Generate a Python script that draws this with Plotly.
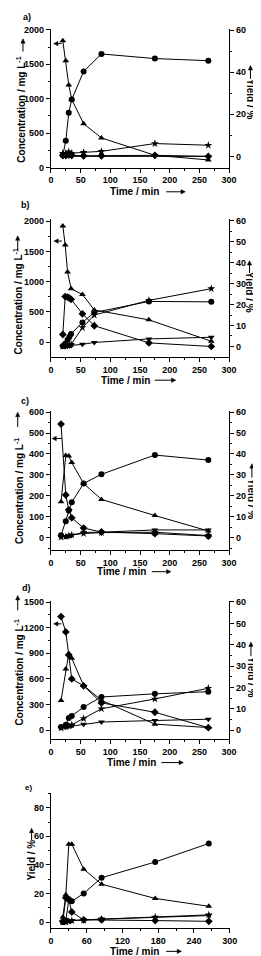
import plotly.graph_objects as go

W, H = 261, 956

# ---------------- data ----------------
# panel a
a_time = [20, 25, 30, 35, 55, 85, 175, 265]
a_tri_conc = [1840, 1550, 1200, 990, 636, 430, 178, 110]      # left axis, mg/L
a_circ_yield = [0.5, 7.4, 20.7, 27.0, 40.4, 48.7, 46.5, 45.5]
a_star_yield = [1.5, 1.5, 2.2, 1.5, 1.9, 2.4, 6.1, 5.3]
a_diam_yield = [0.5, 0.5, 1.0, 0.5, 0.3, 0.3, 0.5, 0.0]
a_down_yield = [0.0, 0.0, 0.2, 0.0, 0.0, 0.0, 0.3, 0.0]

# panel b
b_time = [20, 24, 28, 31, 34, 53, 73, 165, 270]
b_tri_conc = [1921, 1606, 1160, None, 882, 789, 533, 369, 16]  # left axis
b_diam_yield = [5.7, 23.8, 23.6, 23.1, 22.5, 15.6, 9.9, 1.7, 0.0]
b_circ_yield = [0.2, 1.3, 3.2, 4.5, 6.0, 11.5, 16.2, 21.5, 21.3]
b_star_yield = [0.0, 0.3, 0.5, 0.7, 1.0, 9.0, 15.0, 22.0, 27.6]
b_down_yield = [0.0, 0.0, 0.2, 0.3, 0.5, 1.0, 1.9, 3.6, 4.4]

# panel c
c_time = [17, 25, 30, 35, 55, 85, 175, 265]
c_diam_conc = [543, 204, 133, 95, 46, 27, 19, 8]               # left axis
c_tri_yield = [17.2, 39.3, 39.0, 35.9, 25.9, 18.3, 10.6, 3.2]
c_circ_yield = [1.1, 7.9, 13.0, 16.9, 25.9, 30.3, 39.5, 37.1]
c_down_yield = [0.5, 0.5, 0.8, 1.2, 2.5, 2.6, 3.7, 3.7]
c_star_yield = [0.3, 0.5, 1.0, 1.3, 2.0, 2.4, 2.6, 1.0]

# panel d
d_time = [17, 25, 30, 35, 55, 85, 175, 265]
d_diam_conc = [1330, 1150, 880, 600, 520, 320, 210, 30]        # left axis
d_tri_yield = [13.9, 28.6, 35.9, 33.6, 20.9, 14.0, 2.8, 1.2]
d_circ_yield = [1.5, 2.5, 5.7, 6.6, 10.8, 15.5, 17.0, 18.0]
d_star_yield = [1.0, 1.5, 2.0, 2.5, 5.4, 10.0, 14.6, 19.6]
d_down_yield = [1.2, 1.5, 1.8, 2.0, 2.8, 3.8, 4.5, 5.1]

# panel e (yield only)
e_time = [20, 25, 30, 35, 55, 85, 175, 265]
e_tri_yield = [3.5, 19.0, 54.5, 54.5, 37.0, 26.5, 16.5, 11.0]
e_circ_yield = [0.0, 1.0, 16.0, 14.5, 20.0, 31.0, 42.0, 55.0]
e_diam_yield = [0.5, 17.0, 15.5, 7.0, 1.5, 1.5, 1.0, 0.5]
e_down_yield = [0.0, 0.0, 1.0, 1.0, 1.5, 2.0, 3.0, 4.5]
e_star_yield = [0.0, 0.0, 0.5, 1.0, 1.2, 2.0, 3.5, 5.0]

panel_labels = ["a)", "b)", "c)", "d)", "e)"]
conc_title = "Concentration / mg L<sup>-1</sup>"
yield_title = "Yield / %"
time_title = "Time / min"

# ---------------- styling / layout ----------------
FONT = "Liberation Sans, Arial, sans-serif"
BLACK = "black"


def P(x, y):
    """pixel -> paper coordinates"""
    return x / W, 1 - y / H


def ydom(top, bottom):
    return [1 - bottom / H, 1 - top / H]


X_L, X_R = 41.7, 227.7
panel_px = [(17.3, 157.0), (209.3, 348.0), (402.7, 542.7), (594.3, 734.0), (788.3, 925.0)]

fig = go.Figure()
shapes = []
annotations = []


def arrow(x0, y0, x1, y1, head=4.5, half=2.2):
    """draw an arrow in pixel space from tail (x0,y0) to head (x1,y1)"""
    dx, dy = x1 - x0, y1 - y0
    L = (dx * dx + dy * dy) ** 0.5
    ux, uy = dx / L, dy / L
    bx, by = x1 - ux * head, y1 - uy * head
    px, py = -uy, ux
    ax0, ay0 = P(x0, y0)
    axb, ayb = P(bx, by)
    shapes.append(dict(type="line", xref="paper", yref="paper", x0=ax0, y0=ay0,
                       x1=axb, y1=ayb, line=dict(color=BLACK, width=1)))
    p1 = P(x1, y1)
    p2 = P(bx + px * half, by + py * half)
    p3 = P(bx - px * half, by - py * half)
    path = f"M {p1[0]} {p1[1]} L {p2[0]} {p2[1]} L {p3[0]} {p3[1]} Z"
    shapes.append(dict(type="path", xref="paper", yref="paper", path=path,
                       fillcolor=BLACK, line=dict(color=BLACK, width=0.5)))


def text(x, y, s, size=10, angle=0, xanchor="center", yanchor="middle"):
    xx, yy = P(x, y)
    annotations.append(dict(x=xx, y=yy, xref="paper", yref="paper", text=s, textangle=angle,
                            showarrow=False, xanchor=xanchor, yanchor=yanchor,
                            font=dict(family=FONT, size=size, color=BLACK, weight="bold")))


def add_series(x, y, symbol, xa, ya, size=6):
    fig.add_trace(go.Scatter(
        x=x, y=y, mode="lines+markers", xaxis=xa, yaxis=ya,
        connectgaps=True, showlegend=False,
        line=dict(color=BLACK, width=1),
        marker=dict(symbol=symbol, size=size, color=BLACK, line=dict(width=0)),
    ))


def axis_common(**kw):
    d = dict(showline=True, linecolor=BLACK, linewidth=1.3, ticks="outside",
             ticklen=4, tickwidth=1, tickcolor=BLACK, showgrid=False, zeroline=False,
             tickfont=dict(family=FONT, size=9, color=BLACK, weight="bold"))
    d.update(kw)
    return d


panels = [
    (a_time, [("triangle-up", a_tri_conc, "L"), ("circle", a_circ_yield, "R"),
              ("star", a_star_yield, "R"), ("diamond", a_diam_yield, "R"),
              ("triangle-down", a_down_yield, "R")]),
    (b_time, [("triangle-up", b_tri_conc, "L"), ("diamond", b_diam_yield, "R"),
              ("circle", b_circ_yield, "R"), ("star", b_star_yield, "R"),
              ("triangle-down", b_down_yield, "R")]),
    (c_time, [("diamond", c_diam_conc, "L"), ("triangle-up", c_tri_yield, "R"),
              ("circle", c_circ_yield, "R"), ("triangle-down", c_down_yield, "R"),
              ("star", c_star_yield, "R")]),
    (d_time, [("diamond", d_diam_conc, "L"), ("triangle-up", d_tri_yield, "R"),
              ("circle", d_circ_yield, "R"), ("star", d_star_yield, "R"),
              ("triangle-down", d_down_yield, "R")]),
]

left_cfg = [
    dict(range=[0, 2010], dtick=500, minor=250),
    dict(range=[-240, 2030], dtick=500, minor=250),
    dict(range=[-57, 606], dtick=100, minor=50),
    dict(range=[-104, 1516], dtick=300, minor=150),
]
right_cfg = [
    dict(range=[-5.3, 60.5], dtick=20, minor=10),
    dict(range=[-4.9, 60.7], dtick=10, minor=5),
    dict(range=[-5.7, 60.6], dtick=10, minor=5),
    dict(range=[-4.2, 60.6], dtick=10, minor=5),
]
# in-plot arrows pointing at the left axis: (t_tail, t_head, value)
left_arrows = [(18, 4.5, 1800), (18.5, 5, 1671), (18.5, 1.8, 474), (17.7, 4.5, 1245)]
# left title: (x, centre y), arrow (x, y_tail, y_head)
ltitle = [(10, 99), (7.5, 292), (9, 484), (8, 667)]
larrow = [(12.5, 40, 27), (7, 241, 226), (7, 419, 404), (7, 604, 589)]
# right title
rtitle = [(250, 88), (249, 283), (251.5, 492), (250.5, 672)]
rarrow = [(250, 67.5, 54), (249, 263.5, 251), (251.5, 470, 456), (250.5, 650, 636)]
# x title: (text right edge, y, arrow x0, arrow x1)
xtitle = [(157, 181.5, 162, 182), (147, 371.7, 150, 172), (143, 565, 147, 167),
          (153, 757.7, 157, 180)]
label_pos = [(16.7, 5), (15, 195), (14.3, 393), (16.7, 581.7)]

layout = dict(width=W, height=H, margin=dict(l=0, r=0, t=0, b=0),
              paper_bgcolor="white", plot_bgcolor="white", showlegend=False,
              font=dict(family=FONT, color=BLACK))

for i, (t, series) in enumerate(panels):
    xname = "x" if i == 0 else f"x{i + 1}"
    yl = f"y{2 * i + 1}" if i > 0 else "y"
    yr = f"y{2 * i + 2}"
    xkey = "xaxis" if i == 0 else f"xaxis{i + 1}"
    ylkey = "yaxis" if i == 0 else f"yaxis{2 * i + 1}"
    yrkey = f"yaxis{2 * i + 2}"
    top, bot = panel_px[i]
    layout[xkey] = axis_common(domain=[X_L / W, X_R / W], anchor=yl, range=[0, 300], dtick=50,
                               minor=dict(dtick=25, ticks="outside", ticklen=2, tickcolor=BLACK))
    lc = left_cfg[i]
    layout[ylkey] = axis_common(domain=ydom(top, bot), anchor=xname, range=lc["range"],
                                tick0=0, dtick=lc["dtick"],
                                minor=dict(dtick=lc["minor"], tick0=0, ticks="outside",
                                           ticklen=2, tickcolor=BLACK))
    rc = right_cfg[i]
    layout[yrkey] = axis_common(overlaying=yl, side="right", anchor=xname,
                                range=rc["range"], tick0=0, dtick=rc["dtick"],
                                minor=dict(dtick=rc["minor"], tick0=0, ticks="outside",
                                           ticklen=2, tickcolor=BLACK))
    for sym, vals, side in series:
        add_series(t, vals, sym, xname, yl if side == "L" else yr)

    # arrow that marks the series read on the left axis
    tt, th, v = left_arrows[i]
    r0, r1 = lc["range"]
    ypx = bot - (v - r0) / (r1 - r0) * (bot - top)
    arrow(X_L + tt / 300 * (X_R - X_L), ypx, X_L + th / 300 * (X_R - X_L), ypx)

    x, yc = ltitle[i]
    text(x, yc, conc_title, size=10, angle=-90)
    ax, a0, a1 = larrow[i]
    arrow(ax, a0, ax, a1)

    x, yc = rtitle[i]
    text(x, yc, yield_title, size=10, angle=90)
    ax, a0, a1 = rarrow[i]
    arrow(ax, a0, ax, a1)

    xr, yy, ax0, ax1 = xtitle[i]
    text(xr, yy, time_title, size=10, xanchor="right")
    arrow(ax0, yy, ax1, yy)

    lx, ly = label_pos[i]
    text(lx, ly, panel_labels[i], size=9)

# panel e
top, bot = panel_px[4]
layout["xaxis5"] = axis_common(domain=[X_L / W, 228.3 / W], anchor="y9", range=[0, 300],
                               dtick=60, minor=dict(dtick=30, ticks="outside", ticklen=2,
                                                    tickcolor=BLACK))
layout["yaxis9"] = axis_common(domain=ydom(top, bot), anchor="x5", range=[-4.4, 90.4],
                               tick0=0, dtick=20,
                               minor=dict(dtick=10, tick0=0, ticks="outside", ticklen=2,
                                          tickcolor=BLACK))
for sym, vals in [("triangle-up", e_tri_yield), ("circle", e_circ_yield),
                  ("diamond", e_diam_yield), ("triangle-down", e_down_yield),
                  ("star", e_star_yield)]:
    add_series(e_time, vals, sym, "x5", "y9")

text(21.5, 856, yield_title, size=10, angle=-90)
arrow(21.5, 836, 21.5, 824)
text(157, 948.3, time_title, size=10, xanchor="right")
arrow(162, 948.3, 178, 948.3)
text(18.3, 783, panel_labels[4], size=8)

layout["annotations"] = annotations
layout["shapes"] = shapes
fig.update_layout(**layout)
fig.write_html("out.html")
